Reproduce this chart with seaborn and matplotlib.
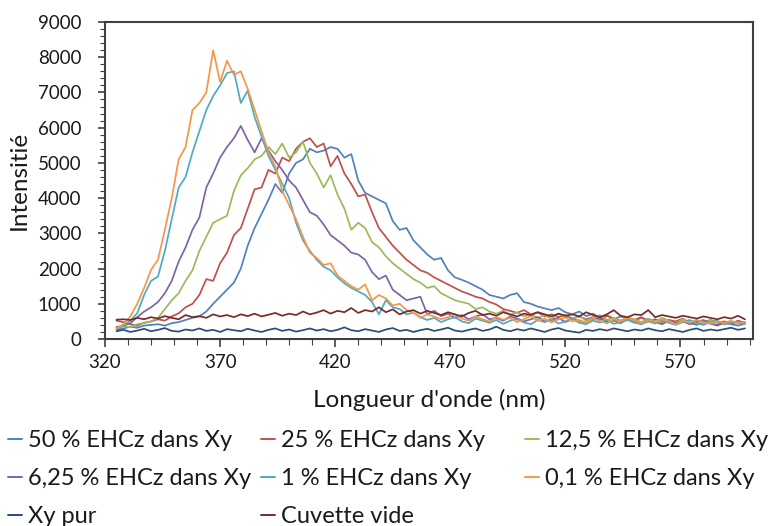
import matplotlib
matplotlib.use("Agg")
import matplotlib.pyplot as plt
import numpy as np
import pandas as pd
import seaborn as sns
from matplotlib.lines import Line2D
from matplotlib.ticker import MultipleLocator

# ---------------- data ----------------
wavelength = [325, 328, 331, 334, 337, 340, 343, 346, 349, 352,
              355, 358, 361, 364, 367, 370, 373, 376, 379, 382,
              385, 388, 391, 394, 397, 400, 403, 406, 409, 412,
              415, 418, 421, 424, 427, 430, 433, 436, 439, 442,
              445, 448, 451, 454, 457, 460, 463, 466, 469, 472,
              475, 478, 481, 484, 487, 490, 493, 496, 499, 502,
              505, 508, 511, 514, 517, 520, 523, 526, 529, 532,
              535, 538, 541, 544, 547, 550, 553, 556, 559, 562,
              565, 568, 571, 574, 577, 580, 583, 586, 589, 592,
              595, 598]

ehcz_50 = [260, 300, 350, 320, 380, 400, 420, 380, 450, 480,
           540, 600, 640, 780, 1000, 1200, 1400, 1600, 2000, 2650,
           3150, 3550, 3950, 4400, 4150, 4700, 5000, 5100, 5400, 5300,
           5350, 5450, 5400, 5150, 5250, 4500, 4150, 4050, 3950, 3850,
           3350, 3100, 3150, 2800, 2600, 2400, 2250, 2300, 1950, 1750,
           1680, 1600, 1500, 1400, 1250, 1200, 1150, 1250, 1300, 1050,
           1000, 920, 870, 820, 880, 760, 700, 780, 650, 720,
           600, 680, 560, 640, 580, 520, 600, 540, 480, 560,
           500, 440, 520, 460, 400, 480, 440, 380, 460, 420,
           380, 440]

ehcz_25 = [520, 480, 420, 380, 460, 500, 560, 520, 640, 730,
           900, 1000, 1250, 1700, 1650, 2150, 2450, 2950, 3150, 3700,
           4250, 4300, 4800, 4700, 5150, 5050, 5400, 5600, 5700, 5450,
           5550, 4900, 5200, 4700, 4400, 4050, 4100, 3600, 3150, 2900,
           2650, 2450, 2250, 2100, 1950, 1880, 1750, 1650, 1550, 1450,
           1350, 1280, 1200, 1150, 1050, 980, 850, 800, 740, 820,
           700, 760, 640, 700, 620, 680, 580, 640, 560, 620,
           540, 660, 580, 520, 600, 540, 620, 500, 560, 480,
           540, 500, 580, 460, 520, 480, 540, 460, 500, 440,
           520, 460]

ehcz_12_5 = [330, 360, 340, 420, 450, 500, 600, 850, 1100, 1300,
             1650, 1950, 2500, 2900, 3300, 3400, 3500, 4200, 4650, 4850,
             5100, 5200, 5450, 5250, 5550, 5150, 5300, 5600, 5000, 4700,
             4300, 4650, 4100, 3700, 3100, 3300, 3150, 2750, 2600, 2350,
             2150, 2000, 1850, 1700, 1600, 1450, 1500, 1300, 1200, 1100,
             1050, 1000, 850, 900, 780, 720, 800, 680, 760, 640,
             700, 600, 680, 560, 720, 620, 560, 660, 520, 600,
             680, 540, 600, 500, 620, 560, 480, 580, 500, 600,
             520, 460, 560, 480, 520, 440, 540, 480, 420, 500,
             440, 480]

ehcz_6_25 = [340, 380, 450, 620, 780, 900, 1050, 1300, 1650, 2200,
             2600, 3100, 3450, 4300, 4700, 5150, 5450, 5700, 6050, 5650,
             5300, 5700, 5350, 5050, 4800, 4500, 4300, 3950, 3600, 3500,
             3250, 2950, 2800, 2650, 2450, 2400, 2250, 1900, 1700, 1800,
             1400, 1250, 1100, 1150, 1200, 700, 800, 650, 720, 600,
             680, 560, 640, 700, 560, 600, 520, 640, 580, 500,
             560, 620, 500, 540, 600, 480, 560, 520, 460, 560,
             600, 480, 520, 450, 560, 500, 440, 540, 480, 420,
             520, 460, 500, 420, 480, 540, 440, 400, 480, 430,
             500, 460]

ehcz_1 = [280, 380, 520, 730, 1250, 1650, 1770, 2500, 3400, 4300,
          4600, 5300, 5900, 6500, 6900, 7200, 7550, 7600, 6700, 7050,
          6300, 5750, 5200, 4800, 4400, 4000, 3300, 2800, 2500, 2250,
          2050, 1950, 1750, 1580, 1450, 1350, 1250, 1050, 700, 1100,
          900, 850, 700, 750, 620, 540, 600, 480, 560, 620,
          500, 450, 580, 520, 460, 540, 430, 520, 560, 470,
          420, 540, 480, 560, 440, 500, 580, 460, 420, 520,
          470, 540, 430, 480, 540, 460, 420, 500, 440, 520,
          460, 400, 480, 540, 440, 400, 480, 520, 420, 460,
          500, 430]

ehcz_0_1 = [300, 420, 640, 1000, 1450, 1960, 2250, 3100, 4000, 5100,
            5450, 6500, 6700, 7000, 8200, 7300, 7900, 7500, 7600, 7100,
            6500, 5900, 5300, 4900, 4200, 3800, 3400, 2900, 2450, 2300,
            2100, 2150, 1800, 1650, 1500, 1400, 1550, 1100, 1250, 1150,
            950, 1000, 820, 750, 600, 700, 640, 560, 620, 700,
            580, 520, 640, 560, 500, 620, 550, 600, 480, 560,
            650, 520, 580, 470, 560, 610, 500, 540, 460, 580,
            520, 440, 560, 500, 600, 520, 460, 540, 480, 560,
            500, 420, 520, 460, 540, 480, 430, 500, 460, 520,
            440, 480]

xy_pur = [220, 260, 200, 240, 290, 220, 260, 310, 230, 210,
          270, 240, 300, 230, 260, 200, 280, 250, 220, 290,
          240, 200, 260, 300, 230, 270, 210, 250, 300, 240,
          280, 220, 260, 330, 250, 220, 280, 240, 200, 270,
          310, 230, 260, 200, 250, 290, 230, 270, 320, 240,
          210, 260, 300, 230, 270, 350, 260, 220, 280, 240,
          300, 250, 200, 270, 310, 240, 210, 180, 260, 230,
          280, 240, 300, 260, 220, 270, 240, 300, 250, 220,
          280, 240, 200, 260, 300, 230, 270, 240, 280, 320,
          260, 300]

cuvette_vide = [550, 560, 540, 600, 560, 620, 580, 650, 600, 560,
                680, 620, 650, 600, 700, 640, 680, 620, 700, 650,
                720, 640, 690, 740, 660, 720, 680, 780, 700, 750,
                820, 720, 800, 760, 880, 740, 820, 780, 900, 760,
                840, 700, 780, 820, 720, 800, 740, 680, 760, 700,
                640, 740, 800, 680, 720, 660, 760, 700, 640, 720,
                680, 760, 700, 640, 720, 660, 700, 640, 760, 680,
                620, 700, 820, 660, 620, 700, 680, 820, 620, 680,
                640, 600, 660, 620, 580, 640, 600, 560, 620, 580,
                660, 560]

series_names = ["50 % EHCz dans Xy", "25 % EHCz dans Xy", "12,5 % EHCz dans Xy",
                "6,25 % EHCz dans Xy", "1 % EHCz dans Xy", "0,1 % EHCz dans Xy",
                "Xy pur", "Cuvette vide"]
series_values = [ehcz_50, ehcz_25, ehcz_12_5, ehcz_6_25, ehcz_1, ehcz_0_1,
                 xy_pur, cuvette_vide]
colors = ["#4F81BD", "#C0504D", "#9BBB59", "#8064A2", "#4BACC6", "#F79646",
          "#2C4D75", "#772C2A"]

x_ticks = [320, 370, 420, 470, 520, 570]
y_ticks = [0, 1000, 2000, 3000, 4000, 5000, 6000, 7000, 8000, 9000]

# ---------------- style ----------------
sns.set_style("ticks")
plt.rcParams['font.family'] = ['Lato', 'DejaVu Sans']
text_color = "#1a1a1a"

df = pd.DataFrame({name: vals for name, vals in zip(series_names, series_values)})
df["wavelength"] = wavelength
long_df = df.melt(id_vars="wavelength", var_name="serie", value_name="intensite")

W, H = 778, 526
fig = plt.figure(figsize=(W / 100, H / 100), dpi=100)
ax = fig.add_axes([105 / W, 1 - 339 / H, (753 - 105) / W, (339 - 22) / H])

sns.lineplot(data=long_df, x="wavelength", y="intensite", hue="serie",
             hue_order=series_names, palette=colors, estimator=None,
             linewidth=1.25, legend=False, ax=ax, sort=False)

ax.set_xlim(320, 601.5)
ax.set_ylim(0, 9000)
ax.set_xticks(x_ticks)
ax.set_yticks(y_ticks)
ax.xaxis.set_minor_locator(MultipleLocator(10))
ax.yaxis.set_minor_locator(MultipleLocator(200))

for side in ["left", "right", "top", "bottom"]:
    ax.spines[side].set_visible(True)
    ax.spines[side].set_color("#404040")
    ax.spines[side].set_linewidth(1.5)

ax.tick_params(axis="both", which="both", direction="out", color="#404040",
               labelcolor=text_color, top=False, right=False)
ax.tick_params(axis="y", which="major", length=5, width=1.2, pad=12, labelsize=13.5)
ax.tick_params(axis="y", which="minor", length=3.5, width=0.8)
ax.tick_params(axis="x", which="major", length=6, width=1.2, pad=5, labelsize=13.5)
ax.tick_params(axis="x", which="minor", length=4, width=0.8)

ax.set_xlabel("Longueur d'onde (nm)", fontsize=17.5, color=text_color, labelpad=13)
ax.set_ylabel("Intensitié", fontsize=17.5, color=text_color, labelpad=6)

# ---------------- legend: three columns, row-wise order ----------------
handles = [Line2D([0], [0], color=c, lw=1.4) for c in colors]
col_members = [[0, 3, 6], [1, 4, 7], [2, 5]]
col_x = [8, 261, 525]
for members, cx in zip(col_members, col_x):
    fig.legend([handles[i] for i in members], [series_names[i] for i in members],
               loc="upper left", bbox_to_anchor=(cx / W, 1 - 430 / H),
               frameon=False, fontsize=17, handlelength=0.6, handletextpad=0.25,
               labelspacing=0.72, borderpad=0, borderaxespad=0, labelcolor=text_color)

fig.savefig("out.png", dpi=100, facecolor="white")
